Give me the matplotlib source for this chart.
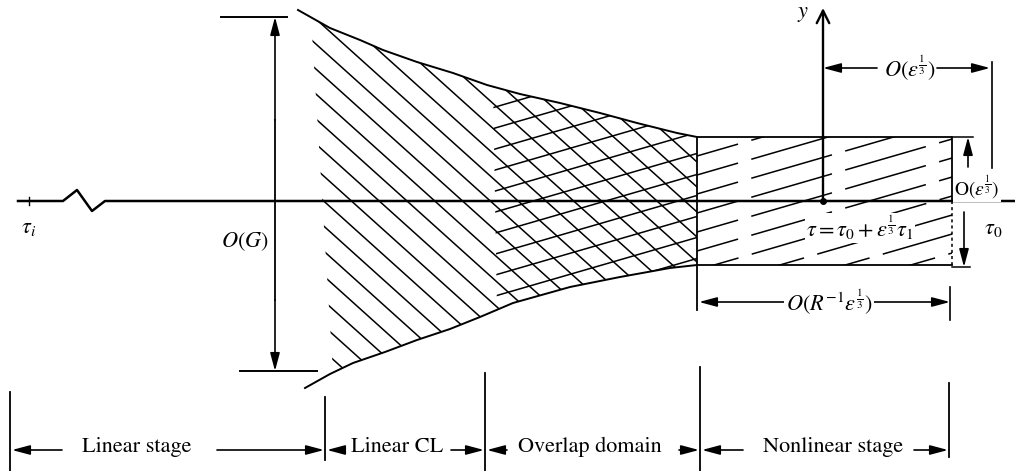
import numpy as np
from matplotlib import pyplot as plt
from matplotlib.patches import Polygon

plt.rcParams['font.family'] = 'STIXGeneral'
plt.rcParams['mathtext.fontset'] = 'stix'

# boundaries of the critical-layer region (pixel-like drawing units, y downwards)
upper_x = [298, 330, 360, 383, 417, 453, 487, 520, 560, 600, 637, 677, 697]
upper_y = [10, 28, 40, 50, 62, 73, 85, 94, 103, 113, 123, 133, 137]
lower_x = [305, 330, 353, 385, 417, 450, 480, 513, 570, 620, 670, 697]
lower_y = [388, 374, 363, 352, 340, 329, 317, 303, 287, 277, 268, 265]

axis_y = 201
zigzag_x = [18, 63, 77, 92, 105, 1015]
zigzag_y = [201, 201, 190, 211, 201, 201]

rect_x0, rect_x1 = 697, 952
rect_y0, rect_y1 = 137, 265
yaxis_x = 823
og_x, og_top, og_bot = 275, 17, 371

stage_names = ["Linear stage", "Linear CL", "Overlap domain", "Nonlinear stage"]
stage_edges = [10, 325, 485, 700, 949]
stage_centers = [137, 397, 590, 833]
stage_tails = [(62, 217), (343, 451), (507, 679), (743, 914)]
edge_tops = [392, 397, 373, 367, 383]
edge_bots = [471, 460, 471, 471, 457]

fig = plt.figure(figsize=(10.15, 4.71), dpi=100)
ax = fig.add_axes([0, 0, 1, 1])
ax.set_xlim(0, 1015)
ax.set_ylim(471, 0)
ax.axis('off')

K = 'black'
WHITE = dict(facecolor='white', edgecolor='none', pad=1)


def arrow(x0, y0, x1, y1, style='-|>,head_length=0.6,head_width=0.16', lw=1.2):
    ax.annotate('', xy=(x1, y1), xytext=(x0, y0),
                arrowprops=dict(arrowstyle=style, color=K, lw=lw,
                                shrinkA=0, shrinkB=0, mutation_scale=18))


def band(xa, xb, xc, xd):
    # top edge from xa to xb, bottom edge from xd back to xc
    xt = np.linspace(xa, xb, 60)
    xl = np.linspace(xd, xc, 60)
    pts = list(zip(xt, np.interp(xt, upper_x, upper_y))) + \
        list(zip(xl, np.interp(xl, lower_x, lower_y)))
    return pts


def hatch(verts, slope, spacing, **kw):
    patch = Polygon(verts, closed=True, fill=False, lw=0)
    ax.add_patch(patch)
    v = np.array(verts)
    c = v[:, 1] - slope * v[:, 0]
    xs = np.array([0, 1015])
    for ci in np.arange(c.min() - spacing, c.max() + spacing, spacing):
        ln, = ax.plot(xs, slope * xs + ci, color=K, lw=1.1, **kw)
        ln.set_clip_path(patch)


# hatching
hatch(band(311, 697, 333, 697), 0.9, 25)
hatch(band(493, 697, 497, 697), -0.29, 21)
rect = [(rect_x0, rect_y0), (rect_x1, rect_y0), (rect_x1, rect_y1), (rect_x0, rect_y1)]
hatch(rect, -0.29, 19, linestyle=(0, (55, 9)))

# region outlines
ax.plot(upper_x, upper_y, color=K, lw=1.4)
ax.plot(lower_x, lower_y, color=K, lw=1.4)
ax.plot([rect_x0, rect_x1, rect_x1], [rect_y0, rect_y0, axis_y], color=K, lw=1.3)
ax.plot([rect_x1, rect_x1], [axis_y, rect_y1], color=K, lw=1.1, linestyle=(0, (2, 2)))
ax.plot([rect_x0, rect_x1], [rect_y1, rect_y1], color=K, lw=1.3)
ax.plot([rect_x0, rect_x0], [rect_y0, 310], color=K, lw=1.3)

# tau axis with break
ax.plot(zigzag_x, zigzag_y, color=K, lw=1.8)
ax.plot([29, 29], [197, 205], color=K, lw=1.0)
ax.text(29, 228, r'$\tau_i$', fontsize=16, ha='center', va='center')

# O(G) dimension
ax.plot([221, 287], [og_top, og_top], color=K, lw=1.4)
ax.plot([240, 317], [og_bot, og_bot], color=K, lw=1.4)
arrow(og_x, 120, og_x, og_top)
arrow(og_x, 300, og_x, og_bot)
ax.plot([og_x, og_x], [120, 300], color=K, lw=1.3)
ax.text(269, 242, r'$O(G)$', fontsize=16, ha='right', va='center')

# y axis
arrow(yaxis_x, axis_y, yaxis_x, 8, style='->,head_length=0.5,head_width=0.25', lw=1.7)
ax.text(803, 14, r'$y$', fontsize=16, ha='center', va='center')
ax.plot([yaxis_x], [axis_y], 'o', color=K, ms=4)
ax.text(860, 228, r'$\tau=\tau_0+\epsilon^{\frac{1}{3}}\tau_1$', fontsize=16,
        ha='center', va='center', bbox=WHITE)
ax.text(993, 229, r'$\tau_0$', fontsize=16, ha='center', va='center')

# top O(eps^1/3) dimension
ax.plot([992, 992], [62, 168], color=K, lw=1.2)
arrow(877, 68, yaxis_x, 68)
arrow(937, 68, 990, 68)
ax.text(910, 68, r'$O(\epsilon^{\frac{1}{3}})$', fontsize=16, ha='center', va='center')

# right O(eps^1/3) dimension
ax.plot([rect_x1, 973], [rect_y0, rect_y0], color=K, lw=1.1)
ax.plot([rect_x1, 970], [rect_y1 + 2, rect_y1 + 2], color=K, lw=1.1)
arrow(968, 167, 968, rect_y0)
arrow(964, 212, 964, rect_y1 + 2)
ax.text(954, 187, r'$\mathrm{O}(\epsilon^{\frac{1}{3}})$', fontsize=14,
        ha='left', va='center', bbox=WHITE)

# O(R^-1 eps^1/3) dimension
ax.plot([950, 950], [287, 320], color=K, lw=1.2)
arrow(785, 302, rect_x0 + 2, 302)
arrow(870, 302, 950, 302)
ax.text(829, 302, r'$O(R^{-1}\epsilon^{\frac{1}{3}})$', fontsize=16,
        ha='center', va='center', bbox=WHITE)

# stage bars and labels
for x, t, b in zip(stage_edges, edge_tops, edge_bots):
    ax.plot([x, x], [t, b], color=K, lw=1.3)
for i, name in enumerate(stage_names):
    ax.text(stage_centers[i], 447, name, fontsize=16, ha='center', va='center')
    arrow(stage_tails[i][0], 450, stage_edges[i] + 2, 450)
    arrow(stage_tails[i][1], 450, stage_edges[i + 1] - 1, 450)

fig.savefig('out.png', dpi=100)
